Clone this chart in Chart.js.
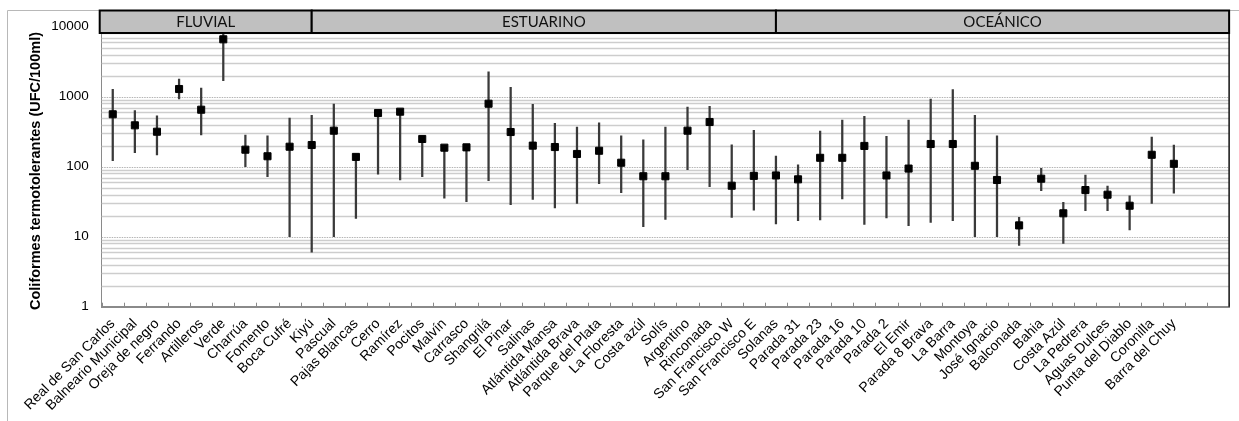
<!DOCTYPE html>
<html>
<head>
<meta charset="utf-8">
<script src="https://cdn.jsdelivr.net/npm/chart.js@4/dist/chart.umd.min.js"></script>
<style>
  html, body { margin: 0; padding: 0; background: #fff; }
  #wrap { position: relative; width: 1239px; height: 421px; }
</style>
</head>
<body>
<div id="wrap"><canvas id="c"></canvas></div>
<script>
// Playas y puntos de muestreo (dos posiciones vacías al final del eje)
const stations = [
  'Real de San Carlos', 'Balneario Municipal', 'Oreja de negro', 'Ferrando', 'Artilleros',
  'Verde', 'Charrúa', 'Fomento', 'Boca Cufré', 'Kiyú',
  'Pascual', 'Pajas Blancas', 'Cerro', 'Ramírez', 'Pocitos',
  'Malvín', 'Carrasco', 'Shangrilá', 'El Pinar', 'Salinas',
  'Atlántida Mansa', 'Atlántida Brava', 'Parque del Plata', 'La Floresta', 'Costa azúl',
  'Solís', 'Argentino', 'Rinconada', 'San Francisco W', 'San Francisco E',
  'Solanas', 'Parada 31', 'Parada 23', 'Parada 16', 'Parada 10',
  'Parada 2', 'El Emir', 'Parada 8 Brava', 'La Barra', 'Montoya',
  'José Ignacio', 'Balconada', 'Bahia', 'Costa Azúl', 'La Pedrera',
  'Aguas Dulces', 'Punta del Diablo', 'Coronilla', 'Barra del Chuy',
  '', ''
];

// Valor central (UFC/100ml)
const centralValue = [
  561, 390, 316, 1288, 652, 6607, 175, 141, 193, 204,
  327, 138, 585, 611, 249, 187, 189, 794, 313, 200,
  191, 152, 169, 114, 73, 73, 327, 435, 53.5, 74,
  75, 66, 134, 134, 198, 75, 94, 211, 211, 103,
  64.6, 14.5, 67.4, 21.6, 46.4, 39.8, 27.7, 148, 110
];

// Mínimo y máximo registrados
const minValue = [
  122, 158, 147, 927, 284, 1693, 100, 72, 10, 6,
  10, 18.3, 78, 64.6, 72, 35.4, 31.6, 63, 28.6, 34.2,
  25.7, 30, 57, 42.5, 13.9, 17.7, 90.6, 51.8, 18.9, 24,
  15.2, 16.9, 17.3, 34.6, 15, 18.5, 14.4, 16, 16.9, 10,
  10, 7.5, 45.4, 8, 23.5, 23.5, 12.5, 30, 41.7
];
const maxValue = [
  1276, 631, 535, 1790, 1332, 9000, 284, 277, 496, 542,
  787, 138, 585, 611, 249, 187, 189, 2275, 1361, 778,
  417, 369, 425, 275, 243, 369, 713, 729, 206, 331,
  142, 106, 324, 464, 525, 272, 464, 927, 1259, 542,
  277, 18.9, 94.8, 31, 76, 53, 38.5, 266, 204
];

// Eje logarítmico
const yTickLabels = ['1', '10', '100', '1000', '10000'];
const gridValues = [];
[1, 10, 100, 1000].forEach(d => { for (let k = 1; k <= 9; k++) gridValues.push(k * d); });
gridValues.push(10000);

// Ambientes: nombre y estación donde termina cada tramo
const zoneNames = ['FLUVIAL', 'ESTUARINO', 'OCEÁNICO'];
const zoneBreaks = [9, 30];

const ranges = minValue.map((lo, i) => [lo, maxValue[i]]);

const decorations = {
  id: 'decorations',
  beforeDatasetsDraw(chart) {
    const { ctx, chartArea: a, scales: { y } } = chart;
    ctx.save();
    gridValues.forEach(v => {
      if (v === 1) return;
      const py = Math.round(y.getPixelForValue(v)) + 0.5;
      const major = yTickLabels.includes(String(v));
      ctx.beginPath();
      if (major) {
        ctx.setLineDash([1.5, 1]);
        ctx.strokeStyle = '#b4b4b4';
        ctx.lineWidth = 1;
      } else {
        ctx.setLineDash([]);
        ctx.strokeStyle = '#cdcdcd';
        ctx.lineWidth = 1.3;
      }
      ctx.moveTo(a.left, py);
      ctx.lineTo(a.right, py);
      ctx.stroke();
    });
    ctx.restore();
  },
  afterDraw(chart) {
    const { ctx, chartArea: a, scales: { x } } = chart;
    ctx.save();

    // marco exterior
    ctx.strokeStyle = '#b8b8b8';
    ctx.lineWidth = 1;
    ctx.beginPath();
    ctx.moveTo(7.5, 421);
    ctx.lineTo(7.5, 10.5);
    ctx.lineTo(1239, 10.5);
    ctx.stroke();

    // marcas del eje x hacia adentro
    const half = (x.getPixelForValue(1) - x.getPixelForValue(0)) / 2;
    ctx.strokeStyle = '#8a8a8a';
    ctx.lineWidth = 1;
    for (let i = 0; i <= stations.length; i++) {
      const px = Math.round(x.getPixelForValue(i) - half) + 0.5;
      ctx.beginPath();
      ctx.moveTo(px, a.bottom);
      ctx.lineTo(px, a.bottom - 4);
      ctx.stroke();
    }

    // borde derecho
    ctx.strokeStyle = '#111';
    ctx.lineWidth = 1.5;
    ctx.beginPath();
    ctx.moveTo(a.right, 33);
    ctx.lineTo(a.right, a.bottom);
    ctx.stroke();

    // título del eje y
    ctx.fillStyle = '#000';
    ctx.font = 'bold 14.5px "Liberation Sans", Arial, sans-serif';
    ctx.textAlign = 'center';
    ctx.textBaseline = 'middle';
    ctx.translate(36, 171);
    ctx.rotate(-Math.PI / 2);
    ctx.fillText('Coliformes termotolerantes (UFC/100ml)', 0, 0);
    ctx.setTransform(1, 0, 0, 1, 0, 0);

    // franja de ambientes
    const edges = [a.left - 2, ...zoneBreaks.map(i => x.getPixelForValue(i)), a.right];
    const top = 10.5, bottom = 33;
    zoneNames.forEach((name, i) => {
      const l = edges[i], r = edges[i + 1];
      ctx.fillStyle = '#c0c0c0';
      ctx.fillRect(l, top, r - l, bottom - top);
      ctx.strokeStyle = '#000';
      ctx.lineWidth = 2;
      ctx.strokeRect(l, top, r - l, bottom - top);
      ctx.fillStyle = '#111';
      ctx.font = '15px Lato, "Open Sans", sans-serif';
      ctx.textAlign = 'center';
      ctx.textBaseline = 'middle';
      ctx.fillText(name, (l + r) / 2, (top + bottom) / 2 + 0.5);
    });
    ctx.restore();
  }
};

new Chart(document.getElementById('c'), {
  type: 'bar',
  data: {
    labels: stations,
    datasets: [
      {
        type: 'line',
        data: centralValue,
        showLine: false,
        pointStyle: 'rect',
        pointRadius: 5,
        pointBackgroundColor: '#000',
        pointBorderColor: '#000',
        pointBorderWidth: 1,
        order: 0
      },
      {
        type: 'bar',
        data: ranges,
        backgroundColor: '#3a3a3a',
        borderWidth: 0,
        barThickness: 1.6,
        order: 1
      }
    ]
  },
  options: {
    responsive: true,
    maintainAspectRatio: false,
    animation: false,
    events: [],
    layout: { padding: { top: 26.7, right: 2, left: 0, bottom: 0 } },
    plugins: { legend: { display: false }, tooltip: { enabled: false } },
    scales: {
      x: {
        offset: true,
        grid: { display: false, drawTicks: false },
        border: { display: true, color: '#8a8a8a', width: 2 },
        ticks: {
          autoSkip: false,
          minRotation: 45,
          maxRotation: 45,
          padding: 9,
          color: '#000',
          font: { family: '"Liberation Sans", Arial, sans-serif', size: 14 }
        },
        afterFit(s) { s.height = 114.3; }
      },
      y: {
        type: 'logarithmic',
        min: 1,
        max: 10000,
        grid: { display: false, drawTicks: false },
        border: { display: true, color: '#8a8a8a', width: 1 },
        afterBuildTicks(s) { s.ticks = gridValues.map(v => ({ value: v })); },
        ticks: {
          autoSkip: false,
          padding: 13,
          color: '#000',
          font: { family: '"Liberation Sans", Arial, sans-serif', size: 13.5 },
          callback: v => yTickLabels.includes(String(v)) ? String(v) : ''
        },
        afterFit(s) { s.width = 101.7; }
      }
    }
  },
  plugins: [decorations]
});
</script>
</body>
</html>
